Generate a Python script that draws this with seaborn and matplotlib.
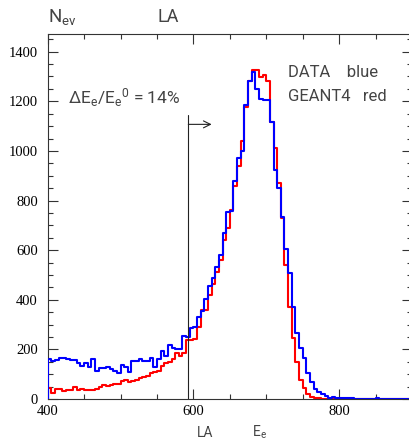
import numpy as np
import pandas as pd
import matplotlib
matplotlib.use("Agg")
import matplotlib.pyplot as plt
import seaborn as sns
from matplotlib.ticker import MultipleLocator

# ---- data (5-unit bins from 400 to 900) ----
bin_lo = 400
bin_hi = 900
bin_w = 5

data_blue = [
    161, 155, 158, 167, 167, 161, 156, 156, 147, 134,   # 400-445
    144, 128, 160, 114, 123, 123, 130, 120, 114, 106,   # 450-495
    137, 128, 110, 153, 153, 161, 152, 152, 164, 130,   # 500-545
    160, 195, 173, 218, 204, 201, 201, 254, 249, 285,   # 550-595
    292, 329, 354, 402, 456, 487, 534, 581, 668, 753,   # 600-645
    758, 880, 970, 1000, 1185, 1282, 1320, 1250, 1210, 1205,  # 650-695
    1205, 1118, 923, 850, 735, 604, 507, 372, 265, 204, # 700-745
    164, 104, 70, 39, 29, 20, 13, 5, 8, 5,              # 750-795
    4, 4, 3, 3, 2, 2, 0, 0, 0, 0,                       # 800-845
    4, 0, 0, 0, 0, 0, 0, 0, 0, 0,                       # 850-895
]

geant4_red = [
    43, 23, 39, 39, 32, 36, 36, 48, 36, 40,             # 400-445
    36, 36, 38, 40, 47, 56, 52, 55, 59, 59,             # 450-495
    72, 78, 69, 72, 76, 86, 90, 92, 103, 110,           # 500-545
    114, 133, 146, 150, 160, 185, 173, 185, 238, 238,   # 550-595
    240, 292, 358, 360, 420, 465, 510, 560, 640, 690,   # 600-645
    760, 860, 940, 1040, 1175, 1282, 1325, 1325, 1298, 1306,  # 650-695
    1282, 1118, 1011, 870, 728, 540, 372, 245, 150, 77, # 700-745
    46, 20, 9, 5, 3, 2, 0, 0, 0, 0,                     # 750-795
    0, 0, 0, 0, 0, 0, 0, 0, 0, 0,                       # 800-845
    0, 0, 0, 0, 0, 0, 0, 0, 0, 0,                       # 850-895
]

x_ticks = [400, 600, 800]
y_ticks = [0, 200, 400, 600, 800, 1000, 1200, 1400]
cut_energy = 593
arrow_end = 625
arrow_level = 1107
line_top = 1145

centers = np.arange(bin_lo, bin_hi, bin_w) + bin_w / 2
df = pd.DataFrame({"E": np.concatenate([centers, centers]),
                   "w": np.concatenate([geant4_red, data_blue]).astype(float),
                   "src": ["GEANT4"] * len(centers) + ["DATA"] * len(centers)})

sns.set_style("ticks")
plt.rcParams["font.family"] = ["Roboto", "DejaVu Sans"]
plt.rcParams["mathtext.default"] = "regular"

W, H = 410, 440
fig = plt.figure(figsize=(W / 100, H / 100), dpi=100)
ax = fig.add_axes([47.7 / W, (H - 399) / H, (412 - 47.7) / W, (399 - 34.3) / H])

for src, col in [("GEANT4", "#ff0000"), ("DATA", "#0000ff")]:
    sub = df[df["src"] == src]
    sns.histplot(data=sub, x="E", weights="w", binwidth=bin_w,
                 binrange=(bin_lo, bin_hi), element="step",
                 fill=False, color=col, linewidth=1.5, ax=ax)

# histogram outline drops to the baseline at the left edge
ax.plot([bin_lo, bin_lo], [0, data_blue[0]], color="#0000ff", lw=1.5, zorder=3)

ax.set_xlim(400, 900)
ax.set_ylim(0, 1470)
ax.set_xlabel("")
ax.set_ylabel("")
ax.set_xticks(x_ticks)
ax.set_yticks(y_ticks)
ax.xaxis.set_minor_locator(MultipleLocator(50))
ax.yaxis.set_minor_locator(MultipleLocator(50))
axcol = "#333333"
ax.tick_params(which="both", direction="in", top=True, right=True,
               colors=axcol, labelcolor="black", width=0.8)
ax.tick_params(which="major", length=7.2)
ax.tick_params(which="minor", length=3.6)
ax.tick_params(axis="y", pad=7)
ax.tick_params(axis="x", pad=4)
for lab in ax.get_xticklabels() + ax.get_yticklabels():
    lab.set_fontfamily("Liberation Serif")
    lab.set_fontsize(10.5)
for s in ax.spines.values():
    s.set_color(axcol)
    s.set_linewidth(0.8)

# cut line and arrow
ax.plot([cut_energy, cut_energy], [0, line_top], color="#222222", lw=0.8)
ax.annotate("", xy=(arrow_end, arrow_level), xytext=(cut_energy, arrow_level),
            arrowprops=dict(arrowstyle="->,head_length=0.5,head_width=0.25",
                            color="#222222", lw=0.8, shrinkA=0, shrinkB=0))

txt_kw = dict(fontweight="normal", color="#444444")
def ftext(px, py, s, size, **kw):
    fig.text(px / W, 1 - py / H, s, fontsize=size, va="baseline", ha="left", **txt_kw, **kw)

ftext(48, 22, "N$_{ev}$", 13.5)
ftext(158, 22, "LA", 13)
ftext(68, 104, "ΔE$_e$/E$_e$$^0$ = 14%", 12.5)
ftext(288, 77, "DATA    blue", 12)
ftext(288, 101, "GEANT4   red", 12)
ftext(197, 437, "LA", 10)
ftext(252, 437, "E$_e$", 10)

fig.savefig("out.png", dpi=100)
